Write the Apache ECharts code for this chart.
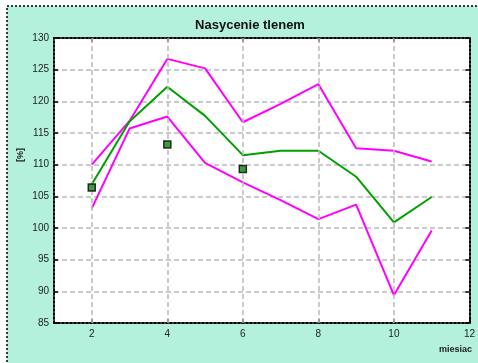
<!DOCTYPE html>
<html><head><meta charset="utf-8">
<script src="https://cdn.jsdelivr.net/npm/echarts@6/dist/echarts.min.js"></script>
<style>html,body{margin:0;padding:0;background:#fff}#c{width:478px;height:363px}</style>
</head><body><div id="c"></div>
<script>
const months = [2,3,4,5,6,7,8,9,10,11];
const meanVals = [106.9,116.8,122.3,117.7,111.5,112.2,112.2,108.1,100.9,104.9];
const upperVals = [110.0,116.9,126.7,125.2,116.7,119.6,122.7,112.6,112.2,110.5];
const lowerVals = [103.1,115.7,117.6,110.3,107.2,104.4,101.4,103.7,89.4,99.6];
const obsMonths = [2,4,6];
const obsVals = [106.4,113.2,109.3];
const xTicks = [2,4,6,8,10,12];
const titleText = 'Nasycenie tlenem';
const xName = 'miesiac';
const yName = '[%]';

const pair = (xs, ys) => xs.map((x,i)=>[x, ys[i]]);
const chart = echarts.init(document.getElementById('c'), null, {renderer:'canvas'});
const lineStyleAxis = {show:true, lineStyle:{color:'#000', type:'dotted', width:2}};
const font = 'Liberation Sans, Arial, sans-serif';
const gridLine = {color:'#bbb', type:[5,3], width:1.5};
chart.setOption({
  backgroundColor:'#fff',
  animation:false,
  graphic:[
    {type:'rect', z:-10, shape:{x:7, y:6, width:480, height:370},
     style:{fill:'#b4f1dc', stroke:'#000', lineWidth:1.5, lineDash:[2,2]}},
    {type:'text', left:16, top:148, rotation:Math.PI/2,
     style:{text:yName, font:'bold 9px '+font, fill:'#222'}},
    {type:'text', right:6, top:345,
     style:{text:xName, font:'bold 9px '+font, fill:'#222'}}
  ],
  title:{text:titleText, left:245, textAlign:'center', top:14,
    textStyle:{fontFamily:font, fontSize:13, fontWeight:'bold', color:'#111'}},
  grid:{left:54, top:38, right:7, bottom:40, show:true, backgroundColor:'#fff', borderWidth:0},
  xAxis:[
    {type:'value', min:1, max:12, position:'bottom',
     axisLine:lineStyleAxis,
     axisTick:{show:true, inside:true, length:4, customValues:xTicks, lineStyle:{color:'#000', width:1.5}},
     axisLabel:{customValues:xTicks, color:'#222', fontFamily:font, fontSize:10, margin:6},
     splitLine:{show:false}},
    {type:'value', min:1, max:12, position:'top',
     axisLine:lineStyleAxis,
     axisTick:{show:true, inside:true, length:4, customValues:xTicks, lineStyle:{color:'#000', width:1.5}},
     axisLabel:{show:false}, splitLine:{show:false}}
  ],
  yAxis:[
    {type:'value', min:85, max:130, interval:5, position:'left',
     axisLine:lineStyleAxis,
     axisTick:{show:true, inside:true, length:4, lineStyle:{color:'#000', width:1.5}},
     axisLabel:{color:'#222', fontFamily:font, fontSize:10, margin:5},
     splitLine:{show:true, lineStyle:gridLine}},
    {type:'value', min:85, max:130, interval:5, position:'right',
     axisLine:lineStyleAxis,
     axisTick:{show:true, inside:true, length:4, lineStyle:{color:'#000', width:1.5}},
     axisLabel:{show:false}, splitLine:{show:false}}
  ],
  series:[
    {type:'line', data:[], z:1, silent:true,
     markLine:{silent:true, symbol:'none', label:{show:false}, lineStyle:gridLine,
       data:xTicks.filter(v=>v<12).map(v=>({xAxis:v}))}},
    {type:'line', data:pair(months, upperVals), symbol:'none', lineStyle:{color:'#ff00ff', width:2}, z:3},
    {type:'line', data:pair(months, lowerVals), symbol:'none', lineStyle:{color:'#ff00ff', width:2}, z:3},
    {type:'line', data:pair(months, meanVals), symbol:'none', lineStyle:{color:'#00a000', width:2}, z:4},
    {type:'scatter', data:pair(obsMonths, obsVals), symbol:'rect', symbolSize:7,
     itemStyle:{color:'#128a12', borderColor:'#000', borderWidth:1.5}, z:5}
  ]
});
</script></body></html>
